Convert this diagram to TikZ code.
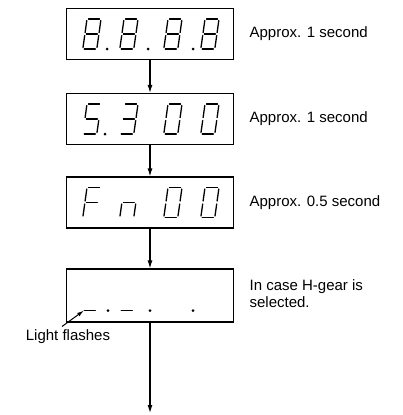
\documentclass[tikz,border=0pt]{standalone}
\usepackage{fontspec}
\setmainfont{Liberation Sans}
\usetikzlibrary{arrows.meta,positioning}

% seven-segment pieces (top-left origin, y downwards)
\def\sega{(1.5,0) -- (12.5,0)}
\def\segb{(14,1.5) -- (14,13.5)}
\def\segc{(14,16.5) -- (14,28.5)}
\def\segd{(1.5,30) -- (12.5,30)}
\def\sege{(0,16.5) -- (0,28.5)}
\def\segf{(0,1.5) -- (0,13.5)}
\def\segg{(1.5,15) -- (12.5,15)}
\newcommand{\segdigit}[3]{%
  \begin{scope}[shift={(#1,#2)}, xslant=0.14]
    \foreach \s in {#3} {\edef\segpath{\csname seg\s\endcsname}\draw[seg] \segpath;}
  \end{scope}}
\newcommand{\segdot}[2]{\fill (#1,#2) circle (1.5);}

\begin{document}
\begin{tikzpicture}[x=1pt, y=-1pt, every node/.style={font=\fontsize{15}{17}\selectfont}]
\tikzset{
  dispbox/.style={draw, line width=1.1pt, minimum width=167pt, minimum height=51pt, inner sep=0pt},
  seg/.style={line width=1.3pt, line cap=round},
  flow/.style={-{Latex[length=8pt,width=5pt]}, line width=1.2pt},
  leader/.style={-{Latex[length=7pt,width=4pt]}, line width=1pt}
}
\useasboundingbox (0,0) rectangle (403,415);

% Displays
\node[dispbox] (disp1) at (150,34) {};
\node[dispbox] (disp2) at (150,119) {};
\node[dispbox] (disp3) at (150,202.5) {};
\node[dispbox, minimum height=53pt] (disp4) at (150,295.5) {};

% 8.8.8.8
\segdigit{87}{19}{a,b,c,d,e,f,g}
\segdigit{124}{19}{a,b,c,d,e,f,g}
\segdigit{168}{19}{a,b,c,d,e,f,g}
\segdigit{205}{19}{a,b,c,d,e,f,g}
\segdot{107}{49} \segdot{148}{49} \segdot{193}{49}

% 5.3 00
\segdigit{87}{104}{a,c,d,f,g}
\segdigit{124}{104}{a,b,c,d,g}
\segdigit{168}{104}{a,b,c,d,e,f}
\segdigit{205}{104}{a,b,c,d,e,f}
\segdot{105}{134}

% Fn 00
\segdigit{87}{187.5}{a,e,f,g}
\segdigit{124}{187.5}{c,e,g}
\segdigit{168}{187.5}{a,b,c,d,e,f}
\segdigit{205}{187.5}{a,b,c,d,e,f}

% flashing marks
\segdigit{87}{280.5}{d}
\segdigit{124}{280.5}{d}
\segdot{108}{310.5} \segdot{150}{310.5} \segdot{193}{310.5}
\coordinate (flash) at (84,310.5);

% Notes
\node[right=12pt of disp1] (note1) {Approx. 1 second};
\node[right=12pt of disp2] (note2) {Approx. 1 second};
\node[right=12pt of disp3] (note3) {Approx. 0.5 second};
\node[right=12pt of disp4, yshift=2pt, align=left] (note4) {In case H-gear is\\selected.};
\node (flashlbl) at (68,337) {Light flashes};

% Flow
\coordinate (exit) at (150,413);
\draw[flow] (disp1) -- (disp2);
\draw[flow] (disp2) -- (disp3);
\draw[flow] (disp3) -- (disp4);
\draw[flow] (disp4) -- (exit);
\draw[leader] ([xshift=-6pt]flashlbl.north) -- (flash);

\end{tikzpicture}
\end{document}
